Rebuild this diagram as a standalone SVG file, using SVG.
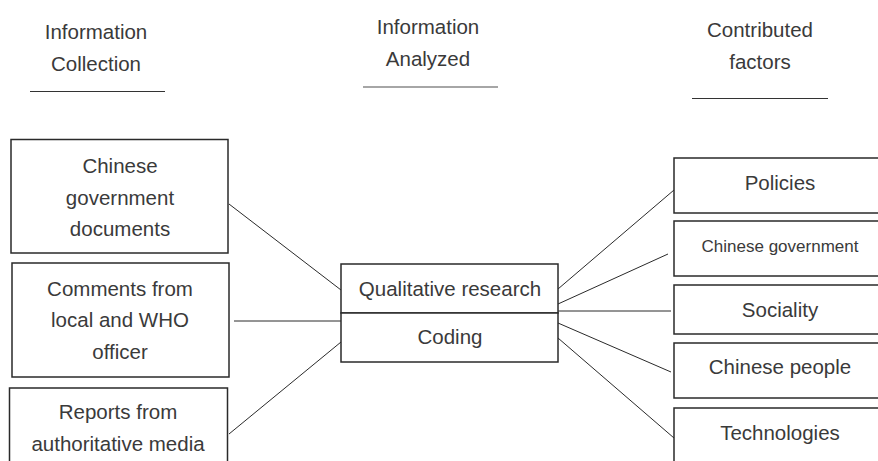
<svg xmlns="http://www.w3.org/2000/svg" width="878" height="461" viewBox="0 0 878 461">
<style>
text{font-family:"Liberation Sans",Arial,sans-serif;fill:#3a3a3a;text-anchor:middle;font-size:20.5px}
.hd{font-size:20.5px}
.sm{font-size:17px}
rect{fill:#fff;stroke:#2a2a2a;stroke-width:1.5}
.c line{stroke:#2a2a2a;stroke-width:1}
.ul{stroke:#333;stroke-width:1.2}
</style>
<rect x="0" y="0" width="878" height="461" style="stroke:none"/>
<g id="headers">
<text class="hd" x="96" y="39">Information</text>
<text class="hd" x="96" y="71">Collection</text>
<line class="ul" x1="30" y1="91.5" x2="165" y2="91.5"/>
<text class="hd" x="428" y="34">Information</text>
<text class="hd" x="428" y="66">Analyzed</text>
<line class="ul" x1="363" y1="87" x2="498" y2="87" style="stroke:#888;stroke-width:1.6"/>
<text class="hd" x="760" y="37">Contributed</text>
<text class="hd" x="760" y="69">factors</text>
<line class="ul" x1="692" y1="98.5" x2="828" y2="98.5"/>
</g>
<g class="c" id="connectors">
<line x1="229" y1="204" x2="341" y2="290"/>
<line x1="234" y1="321" x2="341" y2="321"/>
<line x1="229" y1="434" x2="341" y2="342"/>
<line x1="558" y1="289" x2="674" y2="190"/>
<line x1="558" y1="304" x2="668" y2="254"/>
<line x1="558" y1="311" x2="671" y2="311"/>
<line x1="558" y1="323" x2="671" y2="372"/>
<line x1="558" y1="338" x2="674" y2="438"/>
</g>
<g id="n-chinese-gov-docs">
<rect x="11" y="139.5" width="217" height="113.5"/>
<text x="120" y="173">Chinese</text>
<text x="120" y="205">government</text>
<text x="120" y="236">documents</text>
</g>
<g id="n-comments">
<rect x="12" y="263" width="217" height="114"/>
<text x="120" y="296">Comments from</text>
<text x="120" y="327">local and WHO</text>
<text x="120" y="359">officer</text>
</g>
<g id="n-reports">
<rect x="9.5" y="388" width="218" height="80"/>
<text x="118" y="419">Reports from</text>
<text x="118" y="451">authoritative media</text>
</g>
<g id="n-qualitative">
<rect x="341" y="264" width="217" height="49"/>
<text x="450" y="296">Qualitative research</text>
</g>
<g id="n-coding">
<rect x="341" y="313" width="217" height="49"/>
<text x="450" y="344">Coding</text>
</g>
<g id="n-policies">
<rect x="674" y="158" width="215" height="55"/>
<text x="780" y="190">Policies</text>
</g>
<g id="n-chinese-government">
<rect x="674" y="221" width="215" height="55"/>
<text class="sm" x="780" y="252">Chinese government</text>
</g>
<g id="n-sociality">
<rect x="674" y="285" width="215" height="49"/>
<text x="780" y="317">Sociality</text>
</g>
<g id="n-chinese-people">
<rect x="674" y="343" width="215" height="55"/>
<text x="780" y="374">Chinese people</text>
</g>
<g id="n-technologies">
<rect x="674" y="408" width="215" height="70"/>
<text x="780" y="440">Technologies</text>
</g>
</svg>
